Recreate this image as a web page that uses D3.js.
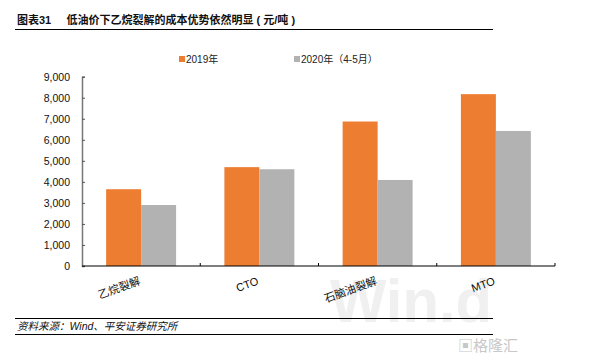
<!DOCTYPE html>
<html><head><meta charset="utf-8">
<script src="https://cdn.jsdelivr.net/npm/d3@7"></script>
<style>body{margin:0;background:#fff}svg{display:block}</style>
</head><body>
<svg id="c" width="603" height="360"></svg>
<script>
const categories = ["乙烷裂解", "CTO", "石脑油裂解", "MTO"];
const seriesNames = ["2019年", "2020年（4-5月）"];
const values2019 = [3650, 4700, 6870, 8170];
const values2020 = [2900, 4600, 4090, 6420];
const yTicks = [0,1000,2000,3000,4000,5000,6000,7000,8000,9000];
const colors = ["#ED7D31", "#B2B2B2"];

const svg = d3.select("#c");
const font = "Arial, 'Liberation Sans', 'Noto Sans CJK SC', sans-serif";
const L = 82, R = 555, T = 76.7, B = 266;

// watermark
svg.append("text").attr("x", 330).attr("y", 322).attr("font-family", font).attr("font-size", 62)
  .attr("font-weight", "bold").attr("fill", "#f0f0f0").attr("textLength", 162)
  .attr("lengthAdjust", "spacingAndGlyphs").text("Win.d");

// title
svg.append("text").attr("x", 17).attr("y", 24).attr("font-family", font).attr("font-size", 11)
  .attr("font-weight", "bold").attr("fill", "#111").attr("xml:space","preserve").text("图表31     低油价下乙烷裂解的成本优势依然明显 ( 元/吨 )");
svg.append("line").attr("x1", 15).attr("x2", 493).attr("y1", 29.5).attr("y2", 29.5).attr("stroke", "#000").attr("stroke-width", 1);

// legend
const legX = [179, 294];
seriesNames.forEach((n, i) => {
  svg.append("rect").attr("x", legX[i]).attr("y", 56).attr("width", 6).attr("height", 6).attr("fill", colors[i]);
  svg.append("text").attr("x", legX[i] + 7).attr("y", 63).attr("font-family", font).attr("font-size", 10)
    .attr("fill", "#222").text(n);
});

const x = d3.scaleBand().domain(categories).range([L, R]);
const y = d3.scaleLinear().domain([0, 9000]).range([B, T]);
const x1 = d3.scaleBand().domain([0, 1]).range([0, x.bandwidth()]).paddingOuter(0.69).paddingInner(0);

const data = categories.map((c, i) => ({c, v: [values2019[i], values2020[i]]}));
const g = svg.append("g");
data.forEach(d => {
  d.v.forEach((v, k) => {
    g.append("rect").attr("x", x(d.c) + x1(k)).attr("width", x1.bandwidth())
      .attr("y", y(v)).attr("height", y(0) - y(v)).attr("fill", colors[k]);
  });
});

// y axis
const ya = svg.append("g").attr("transform", `translate(${L},0)`)
  .call(d3.axisLeft(y).tickValues(yTicks).tickSizeInner(-3).tickSizeOuter(-3).tickPadding(12).tickFormat(d3.format(",")));
ya.select(".domain").attr("stroke", "#777").attr("stroke-width", 1.5);
ya.selectAll(".tick line").attr("stroke", "#555");
ya.selectAll("text").attr("font-family", font).attr("font-size", 10.5).attr("fill", "#111");

// x axis
const xa = svg.append("g").attr("transform", `translate(0,${B})`);
xa.append("line").attr("x1", L).attr("x2", R).attr("stroke", "#000").attr("stroke-width", 1.2);
const bounds = categories.map(c => x(c) + x.bandwidth());
xa.selectAll(".tk").data(bounds).enter().append("line")
  .attr("x1", d => d).attr("x2", d => d).attr("y1", 0).attr("y2", -3).attr("stroke", "#000");
xa.selectAll(".lbl").data(categories).enter().append("text")
  .attr("transform", d => `translate(${x(d) + x.bandwidth() / 2},${18}) rotate(-20)`)
  .attr("text-anchor", "end").attr("font-family", font).attr("font-size", 11).attr("fill", "#111").text(d => d);

// footer
svg.append("line").attr("x1", 15).attr("x2", 493).attr("y1", 318.5).attr("y2", 318.5).attr("stroke", "#000");
svg.append("text").attr("x", 17).attr("y", 330).attr("font-family", font).attr("font-size", 10.5)
  .attr("font-style", "italic").attr("fill", "#111").text("资料来源：Wind、平安证券研究所");
svg.append("line").attr("x1", 15).attr("x2", 493).attr("y1", 334.5).attr("y2", 334.5).attr("stroke", "#000");

// logo
svg.append("text").attr("x", 458).attr("y", 351).attr("font-family", font).attr("font-size", 15)
  .attr("fill", "#c8c8c8").text("▣格隆汇");
</script>
</body></html>
